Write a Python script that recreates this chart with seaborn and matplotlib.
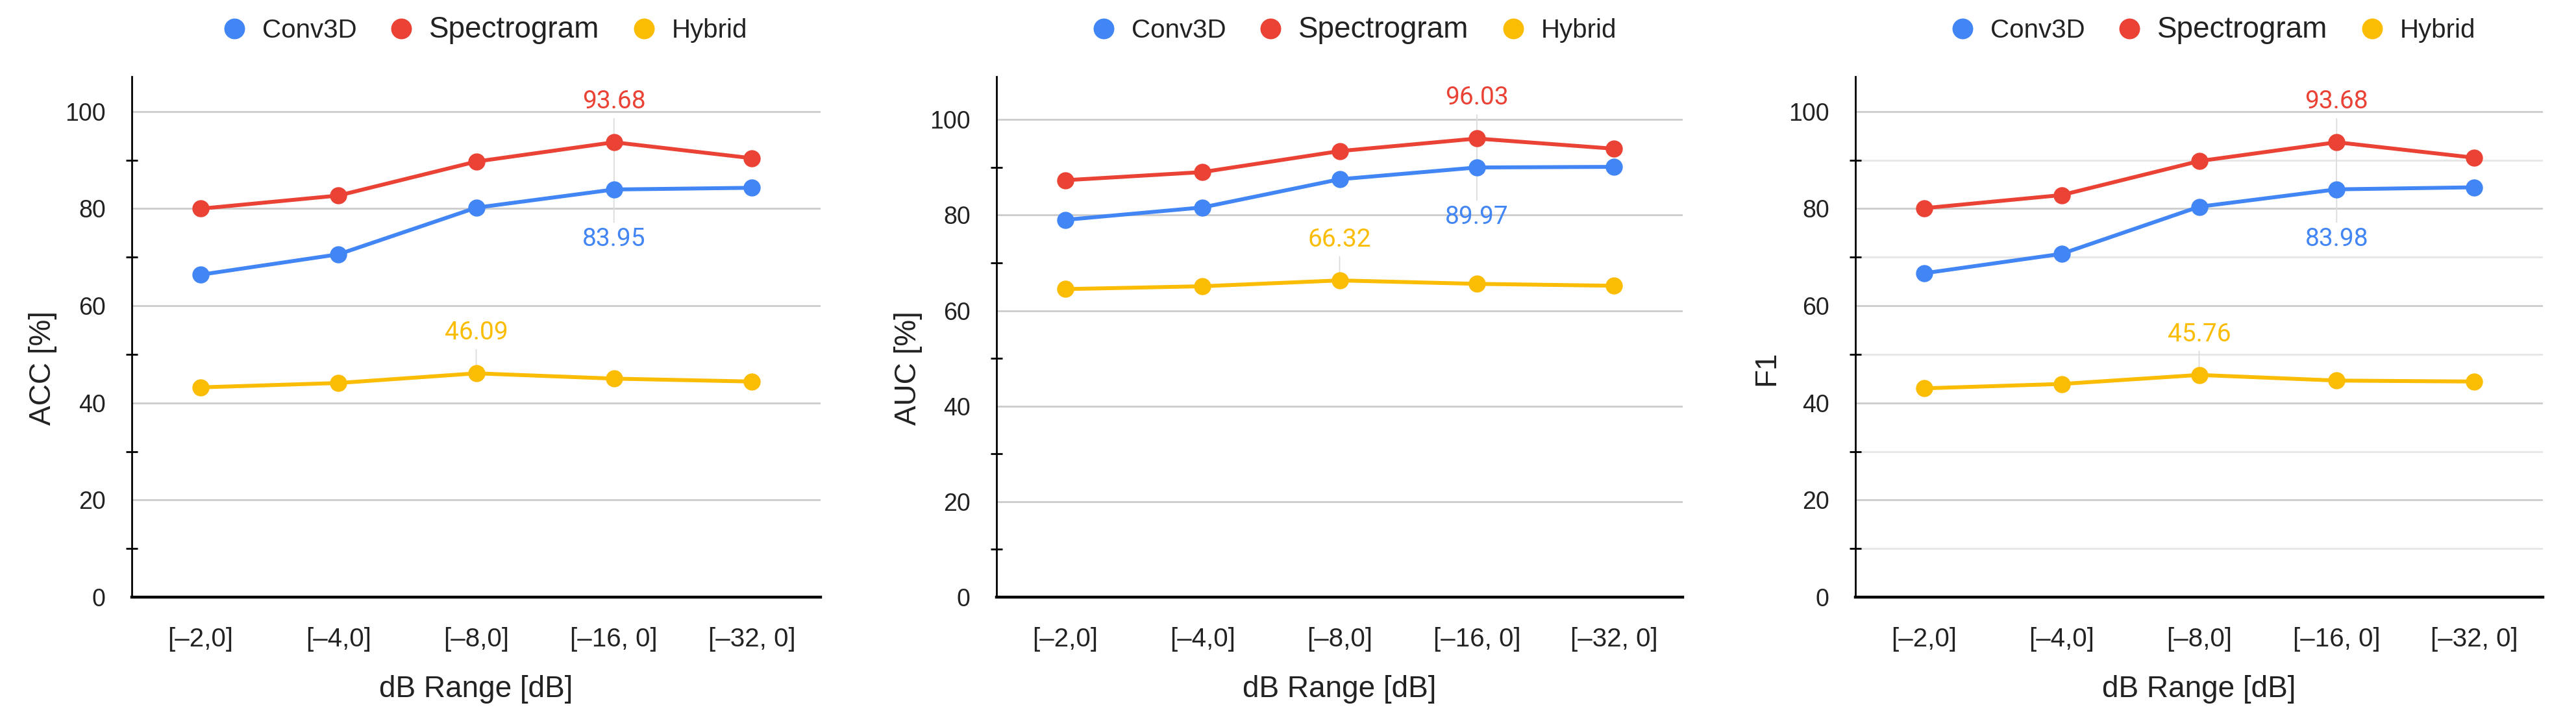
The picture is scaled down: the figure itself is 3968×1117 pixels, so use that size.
import numpy as np
import pandas as pd
import matplotlib
matplotlib.use('Agg')
import matplotlib.pyplot as plt
import seaborn as sns
from matplotlib.lines import Line2D
from matplotlib.ticker import FixedLocator

# ---------------- data ----------------
categories = ['[–2,0]', '[–4,0]', '[–8,0]', '[–16, 0]', '[–32, 0]']
series_names = ['Conv3D', 'Spectrogram', 'Hybrid']
colors = ['#4285F4', '#EA4335', '#FBBC04']

acc_conv3d = [66.4, 70.6, 80.2, 83.95, 84.3]
acc_spectrogram = [80.0, 82.7, 89.7, 93.68, 90.4]
acc_hybrid = [43.2, 44.1, 46.09, 45.0, 44.4]

auc_conv3d = [79.0, 81.6, 87.5, 89.97, 90.1]
auc_spectrogram = [87.3, 89.0, 93.4, 96.03, 93.9]
auc_hybrid = [64.5, 65.1, 66.32, 65.6, 65.2]

f1_conv3d = [66.7, 70.7, 80.4, 83.98, 84.4]
f1_spectrogram = [80.1, 82.8, 89.8, 93.68, 90.5]
f1_hybrid = [43.0, 43.9, 45.76, 44.6, 44.4]

y_labels = ['ACC [%]', 'AUC [%]', 'F1']
x_label = 'dB Range [dB]'

# which point of each series carries a value label
label_index = {'Conv3D': 3, 'Spectrogram': 3, 'Hybrid': 2}
label_side = {'Conv3D': 'below', 'Spectrogram': 'above', 'Hybrid': 'above'}

panels = [
    [acc_conv3d, acc_spectrogram, acc_hybrid],
    [auc_conv3d, auc_spectrogram, auc_hybrid],
    [f1_conv3d, f1_spectrogram, f1_hybrid],
]

# ---------------- style ----------------
sns.set_style('white')
plt.rcParams['font.family'] = ['Liberation Sans', 'DejaVu Sans']

W, H = 3968, 1117
fig = plt.figure(figsize=(W / 100, H / 100), dpi=100)

ax_left_px = [203, 1535, 2858]
ax_width_px = [1061, 1057, 1059]
ax_top_px, ax_bottom_px = 118, 920
y_max = [107.2, 109.0, 107.2]
legend_center_px = [748, 2087, 3410]
minor_grid = [False, False, True]

palette = dict(zip(series_names, colors))

for p, vals in enumerate(panels):
    rect = [ax_left_px[p] / W, 1 - ax_bottom_px / H,
            ax_width_px[p] / W, (ax_bottom_px - ax_top_px) / H]
    ax = fig.add_axes(rect)

    df = pd.DataFrame({
        'pos': np.tile(np.arange(len(categories)), len(series_names)),
        'value': np.concatenate([np.asarray(v, float) for v in vals]),
        'model': np.repeat(series_names, len(categories)),
    })

    sns.lineplot(data=df, x='pos', y='value', hue='model',
                 hue_order=series_names, palette=palette,
                 marker='o', markersize=19, markeredgewidth=0,
                 linewidth=4.3, legend=False, ax=ax, zorder=3)

    ax.set_xlim(-0.5, len(categories) - 0.5)
    ax.set_ylim(0, y_max[p])

    # ticks
    ax.set_xticks(range(len(categories)))
    ax.set_xticklabels(categories)
    ax.yaxis.set_major_locator(FixedLocator([0, 20, 40, 60, 80, 100]))
    ax.yaxis.set_minor_locator(FixedLocator([10, 30, 50, 70, 90]))
    ax.tick_params(axis='x', which='major', direction='inout', length=24,
                   width=1.5, color='black', labelsize=29, pad=21)
    ax.tick_params(axis='y', which='major', length=0, labelsize=27, pad=29)
    ax.tick_params(axis='y', which='minor', direction='inout', length=13,
                   width=2, color='black', left=True)
    for t in ax.get_xticklabels() + ax.get_yticklabels():
        t.set_color('#222222')

    # grid
    ax.yaxis.grid(True, which='major', color='#cccccc', linewidth=2, zorder=0)
    if minor_grid[p]:
        ax.yaxis.grid(True, which='minor', color='#e6e6e6', linewidth=2, zorder=0)
    ax.xaxis.grid(False)
    ax.set_axisbelow(True)

    # spines
    for s in ['top', 'right']:
        ax.spines[s].set_visible(False)
    ax.spines['left'].set_linewidth(2)
    ax.spines['left'].set_color('black')
    ax.spines['bottom'].set_linewidth(3.2)
    ax.spines['bottom'].set_color('black')
    ax.spines['left'].set_zorder(4)
    ax.spines['bottom'].set_zorder(4)

    # labels
    ax.set_xlabel(x_label, fontsize=33, color='#222222')
    ax.set_ylabel(y_labels[p], fontsize=33, color='#222222')
    ax.xaxis.set_label_coords(0.5, -0.15)
    ax.yaxis.set_label_coords(-0.108, 0.44)
    ax.xaxis.label.set_va('top')

    # value labels with thin leader lines
    by_index = {}
    for name, v, c in zip(series_names, vals, colors):
        i = label_index[name]
        val = v[i]
        by_index.setdefault(i, []).append(val)
        if label_side[name] == 'above':
            off, va = 52, 'baseline'
        else:
            off, va = -58, 'top'
        ax.annotate(f'{val:.2f}', xy=(i, val), xytext=(0, off),
                    textcoords='offset pixels', ha='center', va=va,
                    fontsize=28, color=c, family=['Roboto', 'DejaVu Sans'],
                    arrowprops=dict(arrowstyle='-', color='#dcdcdc', lw=1.3,
                                    shrinkA=3, shrinkB=0),
                    zorder=2)
    for i, vs in by_index.items():
        if len(vs) > 1:
            ax.plot([i, i], [min(vs), max(vs)], color='#dcdcdc', lw=1.3,
                    zorder=2)

    # legend
    handles = [Line2D([], [], marker='o', linestyle='none', markersize=23,
                      markeredgewidth=0, color=c) for c in colors]
    leg = fig.legend(handles, series_names, loc='center', ncol=3,
                     bbox_to_anchor=(legend_center_px[p] / W, 1 - 46 / H),
                     bbox_transform=fig.transFigure, frameon=False,
                     fontsize=29, handlelength=0.8, handletextpad=0.67,
                     columnspacing=1.3, borderpad=0, borderaxespad=0)
    for t in leg.get_texts():
        t.set_color('#222222')
    leg.get_texts()[1].set_fontsize(33)

fig.savefig('out.png', dpi=100)
